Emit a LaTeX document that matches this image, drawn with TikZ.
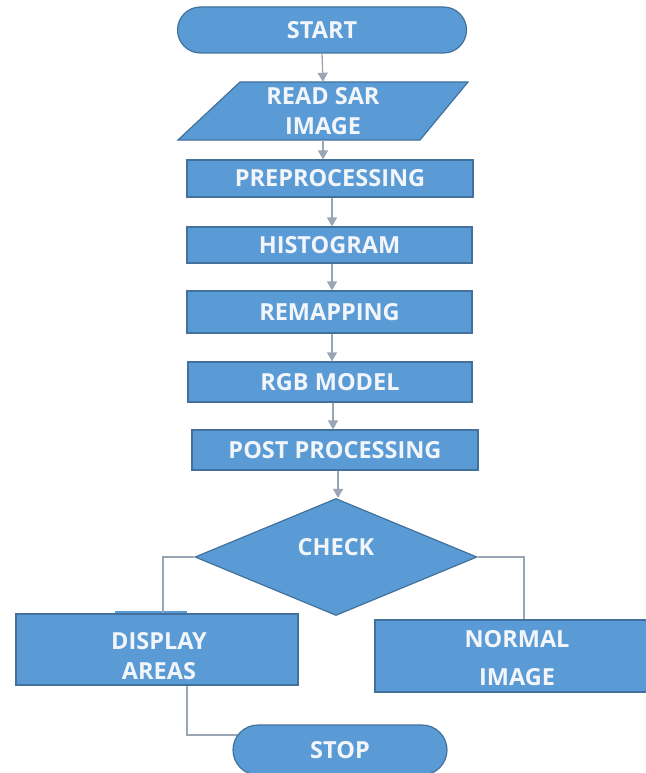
\documentclass[tikz,border=0pt]{standalone}
\usepackage{fontspec}
\setmainfont{Open Sans}
\usetikzlibrary{shapes.geometric,arrows.meta,backgrounds}
\definecolor{boxfill}{HTML}{5B9BD5}
\definecolor{boxline}{HTML}{41719C}
\definecolor{txtcol}{HTML}{F2F6FB}
\definecolor{linecol}{HTML}{9AA6B4}
\newcommand{\boxfont}{\bfseries\fontsize{23.5}{30}\selectfont}
\tikzset{
  base/.style={fill=boxfill, draw=boxline, line width=1.2pt, text=txtcol,
    font=\boxfont, inner sep=0pt, align=center},
  procbox/.style={base, rectangle},
  termbox/.style={base, rectangle, rounded corners=#1},
  decbox/.style={base, diamond},
  boxlabel/.style={text=txtcol, font=\boxfont, align=center},
  flowarrow/.style={draw=linecol, line width=1.3pt, -{Triangle[width=10pt,length=9pt]}},
  flowline/.style={draw=linecol, line width=1.3pt},
}
\begin{document}
\begin{tikzpicture}[x=1pt,y=-1pt]
\useasboundingbox (0,0) rectangle (645,773);
% START
\node[termbox=23pt, minimum width=289pt, minimum height=46pt] (start) at (322,30) {START};
% READ SAR IMAGE (parallelogram)
\fill[boxfill, draw=boxline, line width=1.2pt] (240,82) -- (468,82) -- (420,140) -- (178,140) -- cycle;
\node[boxlabel, minimum height=58pt, inner sep=0pt] (read) at (323,111) {READ SAR\\IMAGE};
% process boxes
\node[procbox, minimum width=286pt, minimum height=37pt] (pre) at (330,178.5) {PREPROCESSING};
\node[procbox, minimum width=285pt, minimum height=36pt] (hist) at (329.5,245) {HISTOGRAM};
\node[procbox, minimum width=285pt, minimum height=42pt] (remap) at (329.5,312) {REMAPPING};
\node[procbox, minimum width=284pt, minimum height=40pt] (rgb) at (330,382) {RGB MODEL};
\node[procbox, minimum width=286pt, minimum height=40pt] (post) at (335,450) {POST PROCESSING};
% decision
\node[decbox, minimum width=282pt, minimum height=117pt, aspect=2.41,
  label={[boxlabel, yshift=10pt]center:CHECK}] (check) at (336,557) {};
% outputs
\fill[boxfill] (115,611) rectangle (187,615);
\node[procbox, minimum width=282pt, minimum height=71pt,
  label={[boxlabel, yshift=-6.5pt, xshift=2pt]center:{DISPLAY\\AREAS}}] (disp) at (157,649.5) {};
\node[procbox, minimum width=284pt, minimum height=72pt,
  label={[boxlabel, font=\bfseries\fontsize{23.5}{38}\selectfont, yshift=-2pt]center:{NORMAL\\IMAGE}}] (norm) at (517,656) {};
\node[termbox=25pt, minimum width=214pt, minimum height=50pt] (stop) at (340,750) {STOP};
% connectors
\draw[flowarrow] (start.south) -- (read.north);
\draw[flowarrow] (read.south) -- (pre.north -| read.south);
\draw[flowarrow] ([xshift=2pt]pre.south) -- ([xshift=2pt]pre.south |- hist.north);
\draw[flowarrow] ([xshift=2.5pt]hist.south) -- ([xshift=2.5pt]hist.south |- remap.north);
\draw[flowarrow] ([xshift=2.5pt]remap.south) -- ([xshift=2.5pt]remap.south |- rgb.north);
\draw[flowarrow] ([xshift=3pt]rgb.south) -- ([xshift=3pt]rgb.south |- post.north);
\draw[flowarrow] ([xshift=3pt]post.south) -- ([xshift=3pt]post.south |- check.north);
\draw[flowline] (check.west) -| ([xshift=6pt]disp.north);
\draw[flowline] (check.east) -| ([xshift=7pt]norm.north);
\begin{scope}[on background layer]
\draw[flowline] ([xshift=30pt]disp.south) |- ([yshift=15pt]stop.center);
\end{scope}
\end{tikzpicture}
\end{document}
